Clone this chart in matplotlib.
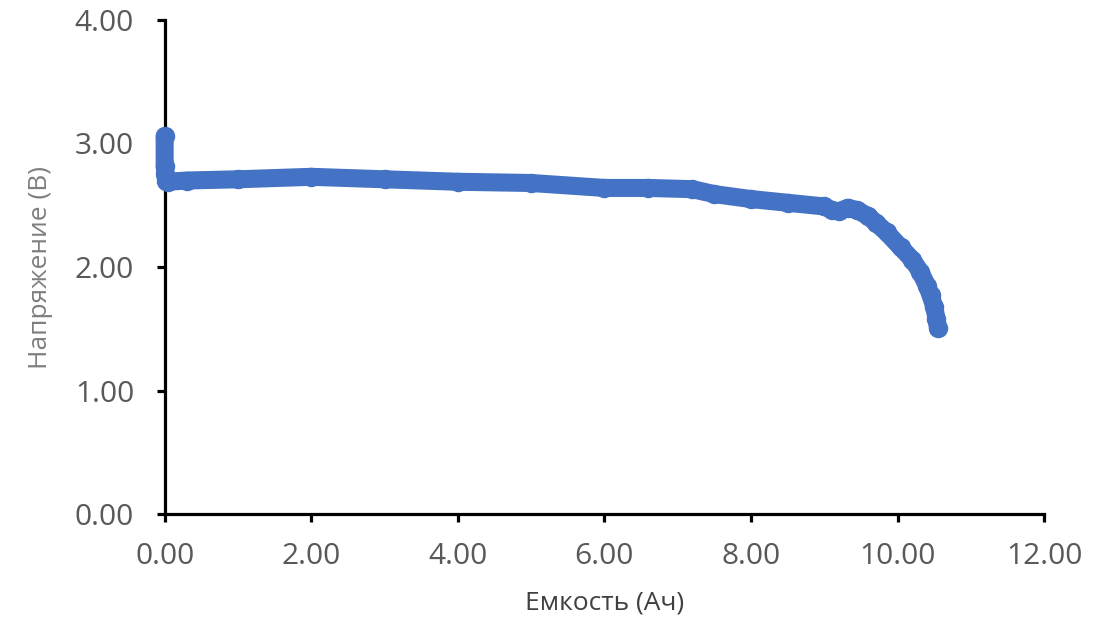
import numpy as np
import matplotlib.pyplot as plt

# capacity (Ah) and voltage (V)
capacity = [0.00, 0.00, 0.01, 0.02, 0.05, 0.30, 1.00, 2.00, 3.00, 4.00, 5.00,
            6.00, 6.60, 7.20, 7.50, 8.00, 8.50, 9.00, 9.10, 9.20, 9.32,
            9.45, 9.60, 9.70, 9.85, 10.04, 10.20, 10.31, 10.40, 10.45,
            10.50, 10.53, 10.55]
voltage = [3.06, 2.82, 2.75, 2.70, 2.69, 2.70, 2.71, 2.73, 2.71, 2.69, 2.68,
           2.64, 2.64, 2.63, 2.59, 2.55, 2.52, 2.49, 2.46, 2.45, 2.48,
           2.46, 2.41, 2.36, 2.28, 2.16, 2.06, 1.96, 1.85, 1.77,
           1.68, 1.58, 1.51]

xticks = [0, 2, 4, 6, 8, 10, 12]
yticks = [0, 1, 2, 3, 4]

plt.rcParams['font.family'] = ['Open Sans', 'DejaVu Sans']

fig = plt.figure(figsize=(11.05, 6.21), dpi=100)
ax = fig.add_axes([0.149, 0.172, 0.796, 0.796])

ax.plot(capacity, voltage, color='#4472C4', marker='o', markersize=13,
        linewidth=13, solid_capstyle='round', solid_joinstyle='round',
        clip_on=False, zorder=3)

ax.set_xlim(0, 12)
ax.set_ylim(0, 4)
ax.set_xticks(xticks)
ax.set_yticks(yticks)
ax.set_xticklabels([f'{t:.2f}' for t in xticks])
ax.set_yticklabels([f'{t:.2f}' for t in yticks])

for side in ['top', 'right']:
    ax.spines[side].set_visible(False)
for side in ['left', 'bottom']:
    ax.spines[side].set_linewidth(2.3)
    ax.spines[side].set_color('black')

ax.tick_params(axis='both', direction='out', length=6, width=2.3,
               labelsize=21.5, labelcolor='#595959')
ax.tick_params(axis='x', pad=14)
ax.tick_params(axis='y', pad=16)

ax.set_xlabel('Емкость (Ач)', fontsize=19, color='#404040', labelpad=14)
ax.set_ylabel('Напряжение (В)', fontsize=19, color='#7f7f7f', labelpad=16)

fig.savefig('out.png', dpi=100)
